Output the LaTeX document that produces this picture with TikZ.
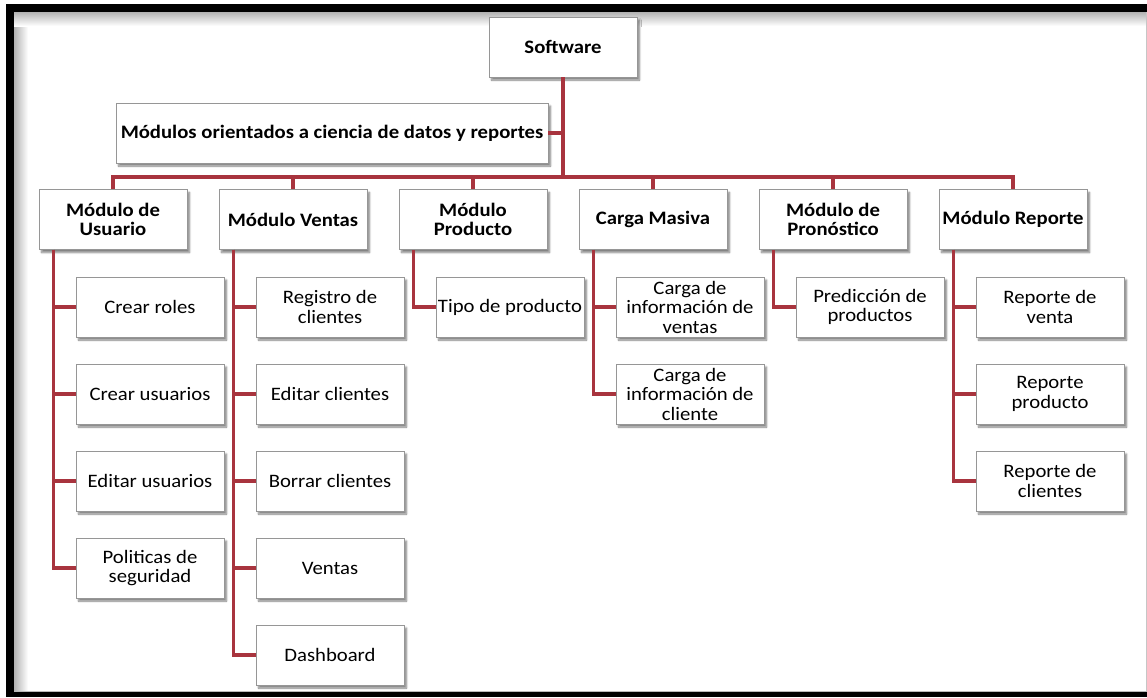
\documentclass[tikz,border=0pt]{standalone}
\usepackage{fontspec}
\setmainfont[FakeStretch=1.09]{Carlito}
\usetikzlibrary{shadows.blur}
\definecolor{linkred}{RGB}{168,52,62}
\definecolor{boxline}{RGB}{150,150,150}

\begin{document}
\begin{tikzpicture}[x=1pt,y=-1pt,
  box/.style={draw=boxline, line width=0.8pt, fill=white,
    minimum width=148pt, minimum height=60pt, inner sep=0pt, align=center,
    font=\fontsize{19}{19.5}\selectfont,
    blur shadow={shadow xshift=2.5pt, shadow yshift=-3pt,
      shadow blur steps=6, shadow opacity=50}},
  head/.style={box, font=\fontsize{19}{19.5}\selectfont\bfseries},
  conn/.style={draw=linkred, line width=3.2pt}]

\useasboundingbox (0,0) rectangle (1147,697);

% page frame with a soft inner edge
\shade[left color=gray!60, right color=white] (14,12) rectangle (28,692);
\shade[top color=gray!60, bottom color=white] (14,12) rectangle (1146,26);
\draw[gray!45, line width=0.8pt] (1146,12) -- (1146,692);
\draw[gray!55, line width=1pt] (14,691.5) -- (1147,691.5);
\fill[black] (6,4) rectangle (1147,12);
\fill[black] (6,4) rectangle (14,697);
\fill[black] (6,692.3) rectangle (1147,697);

% root and side note
\node[head] (sw) at (563,47) {Software};
\node[head, minimum width=432pt] (mod) at (332,133)
  {Módulos orientados a ciencia de datos y reportes};

% modules
\node[head] (usr)  at (113,219.5)  {Módulo de\\Usuario};
\node[head] (ven)  at (293,219.5)  {Módulo Ventas};
\node[head] (pro)  at (473,219.5)  {Módulo\\Producto};
\node[head] (car)  at (653,219.5)  {Carga Masiva};
\node[head] (pron) at (833,219.5)  {Módulo de\\Pronóstico};
\node[head] (rep)  at (1013,219.5) {Módulo Reporte};

% user module
\node[box] (u1) at (150,307) {Crear roles};
\node[box] (u2) at (150,394) {Crear usuarios};
\node[box] (u3) at (150,481) {Editar usuarios};
\node[box] (u4) at (150,568) {Politicas de\\seguridad};

% sales module
\node[box] (v1) at (330,307) {Registro de\\clientes};
\node[box] (v2) at (330,394) {Editar clientes};
\node[box] (v3) at (330,481) {Borrar clientes};
\node[box] (v4) at (330,568) {Ventas};
\node[box] (v5) at (330,655) {Dashboard};

% product module
\node[box] (p1) at (510,307) {Tipo de producto};

% bulk load
\node[box] (c1) at (690,307) {Carga de\\información de\\ventas};
\node[box] (c2) at (690,394) {Carga de\\información de\\cliente};

% forecast module
\node[box] (f1) at (870,307) {Predicción de\\productos};

% report module
\node[box] (r1) at (1050,307) {Reporte de\\venta};
\node[box] (r2) at (1050,394) {Reporte\\producto};
\node[box] (r3) at (1050,481) {Reporte de\\clientes};

% trunk and bus
\coordinate (bus) at (563,177);
\draw[conn] (sw.south) -- (bus);
\draw[conn] (mod.east) -- (mod.east -| bus);
\draw[conn] (usr.north) -- (usr.north |- bus) -- (rep.north |- bus) -- (rep.north);
\foreach \m in {ven,pro,car,pron}
  \draw[conn] (\m.north) -- (\m.north |- bus);

% drops to the sub-items
\foreach \p/\c in {usr/u1,usr/u2,usr/u3,usr/u4,
                   ven/v1,ven/v2,ven/v3,ven/v4,ven/v5,
                   pro/p1,car/c1,car/c2,pron/f1,
                   rep/r1,rep/r2,rep/r3}
  \draw[conn] ([xshift=15pt]\p.south west) |- (\c.west);
\end{tikzpicture}
\end{document}
